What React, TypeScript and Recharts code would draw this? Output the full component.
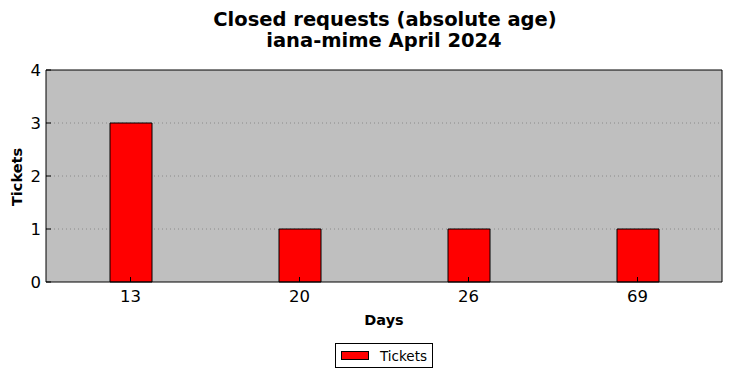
import React from 'react';
import { BarChart, Bar, XAxis, YAxis, CartesianGrid, Legend } from 'recharts';

const categories = ['13', '20', '26', '69'];
const tickets = [3, 1, 1, 1];
const yTicks = [0, 1, 2, 3, 4];
const titleLines = ['Closed requests (absolute age)', 'iana-mime April 2024'];

const data = categories.map((c, i) => ({ day: c, Tickets: tickets[i] }));

const FONT = '"DejaVu Sans", sans-serif';

const LegendBox = () => (
  <div
    style={{
      width: 98,
      height: 25,
      border: '1px solid #000',
      background: '#fff',
      boxSizing: 'border-box',
      display: 'flex',
      alignItems: 'center',
      fontFamily: FONT,
      fontSize: 13.5,
      color: '#000',
    }}
  >
    <div style={{ width: 28, height: 9, background: 'red', border: '1px solid #000', boxSizing: 'border-box', marginLeft: 5, marginRight: 11 }} />
    <span>Tickets</span>
  </div>
);

export default function App() {
  return (
    <div style={{ position: 'absolute', left: 0, top: 0, width: 732, height: 378, background: '#fff' }}>
      <BarChart
        width={732}
        height={378}
        data={data}
        margin={{ top: 69, right: 9, bottom: 66, left: 16 }}
        barCategoryGap={0}
        style={{ fontFamily: FONT }}
      >
        <CartesianGrid xAxisId="b" yAxisId="l" vertical={false} fill="#bfbfbf" stroke="#8a8a8a" strokeDasharray="1 3" horizontalValues={[1, 2, 3]} />
        <XAxis
          dataKey="day"
          xAxisId="b"
          height={30}
          tickSize={-5}
          tickMargin={13}
          axisLine={{ stroke: '#000', strokeWidth: 1 }}
          tickLine={{ stroke: '#000' }}
          tick={{ fill: '#000', fontSize: 16.5, fontFamily: FONT }}
        />
        <XAxis
          dataKey="day"
          xAxisId="t"
          orientation="top"
          height={1}
          tickSize={-5}
          tick={false}
          axisLine={{ stroke: '#000', strokeWidth: 1 }}
          tickLine={{ stroke: '#000' }}
        />
        <YAxis
          yAxisId="l"
          domain={[0, 4]}
          ticks={yTicks}
          type="number"
          width={30}
          tickSize={-5}
          tickMargin={10}
          axisLine={{ stroke: '#000', strokeWidth: 1 }}
          tickLine={{ stroke: '#000' }}
          tick={{ fill: '#000', fontSize: 16.5, fontFamily: FONT }}
        />
        <YAxis
          yAxisId="r"
          orientation="right"
          domain={[0, 4]}
          ticks={yTicks}
          type="number"
          width={1}
          tickSize={-5}
          tick={false}
          axisLine={{ stroke: '#000', strokeWidth: 1 }}
          tickLine={{ stroke: '#000' }}
        />
        <Bar
          dataKey="Tickets"
          xAxisId="b"
          yAxisId="l"
          barSize={42}
          fill="red"
          stroke="#000"
          strokeWidth={1}
          isAnimationActive={false}
        />
        <Bar dataKey="Tickets" xAxisId="t" yAxisId="r" barSize={0} fill="none" stroke="none" isAnimationActive={false} legendType="none" />
        <Legend
          layout="horizontal"
          verticalAlign="middle"
          align="center"
          wrapperStyle={{ position: 'absolute', left: 335, top: 343, width: 98, height: 25 }}
          content={() => <LegendBox />}
        />
        <text x={385} y={26} textAnchor="middle" fontFamily={FONT} fontSize={19.5} fontWeight="bold" fill="#000">{titleLines[0]}</text>
        <text x={384} y={47} textAnchor="middle" fontFamily={FONT} fontSize={19.5} fontWeight="bold" fill="#000">{titleLines[1]}</text>
        <text x={384} y={325} textAnchor="middle" fontFamily={FONT} fontSize={14.5} fontWeight="bold" fill="#000">Days</text>
        <text transform="translate(22,177) rotate(-90)" x={0} y={0} textAnchor="middle" fontFamily={FONT} fontSize={14.5} fontWeight="bold" fill="#000">Tickets</text>
      </BarChart>
    </div>
  );
}
